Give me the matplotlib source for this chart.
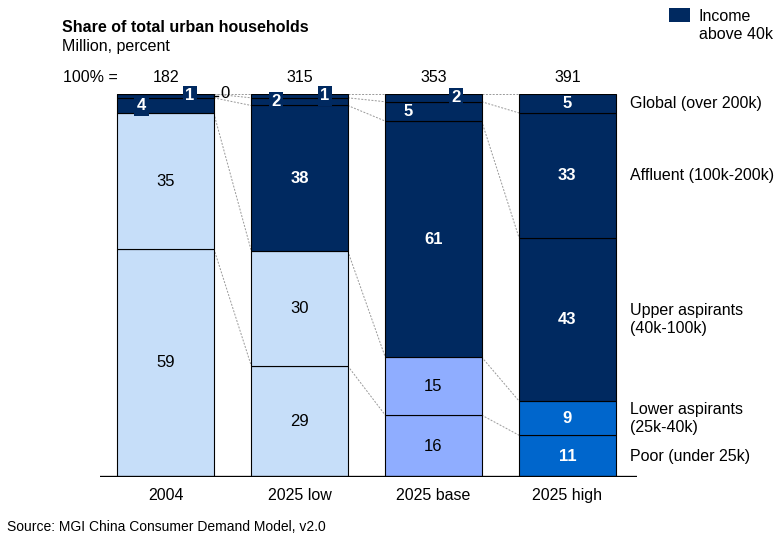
import numpy as np
import matplotlib
matplotlib.use("Agg")
import matplotlib.pyplot as plt
from matplotlib.patches import Rectangle

plt.rcParams['font.family'] = ['Liberation Sans', 'DejaVu Sans']

# data
scenarios = ["2004", "2025 low", "2025 base", "2025 high"]
totals = [182, 315, 353, 391]
segments = ["Poor (under 25k)", "Lower aspirants\n(25k-40k)", "Upper aspirants\n(40k-100k)",
            "Affluent (100k-200k)", "Global (over 200k)"]
poor = [59, 29, 16, 11]
lower = [35, 30, 15, 9]
upper = [4, 38, 61, 43]
affluent = [1, 2, 5, 33]
global_ = [0, 1, 2, 5]

NAVY = "#002960"
low_colors = ["#C6DEF9", "#C6DEF9", "#8FADFF", "#0066CC"]
FS = 11.5

vals = np.array([poor, lower, upper, affluent, global_], dtype=float)
shares = vals / vals.sum(axis=0) * 100
bottoms = np.vstack([np.zeros(4), np.cumsum(shares, axis=0)[:-1]])

fig = plt.figure(figsize=(7.77, 5.37), dpi=100)
ax = fig.add_axes([100 / 777, 60 / 537, 537 / 777, 383 / 537])
x = np.arange(len(scenarios))
w = 0.72

for k in range(len(segments)):
    cols = low_colors if k < 2 else [NAVY] * 4
    ax.bar(x, shares[k], w, bottom=bottoms[k], color=cols, edgecolor="black", linewidth=0.8, zorder=2)

# connector lines between bars
tops = np.vstack([bottoms, np.full(4, 100.0)])
for i in range(len(scenarios) - 1):
    for k in range(1, tops.shape[0]):
        ax.plot([i + w / 2, i + 1 - w / 2], [tops[k, i], tops[k, i + 1]],
                color="#999999", lw=0.7, ls=(0, (2, 1.5)), zorder=1)

# segment labels
box_offsets = {(2, 0): -0.18, (3, 0): 0.18, (3, 1): -0.175, (4, 1): 0.19, (4, 2): 0.17}
plain_offsets = {(3, 2): -0.19}
for k in range(len(segments)):
    for i in range(len(scenarios)):
        v = int(vals[k, i])
        yc = bottoms[k, i] + shares[k, i] / 2
        dark = k >= 2 or i == 3
        if (k, i) == (4, 0):
            ax.plot([i + w / 2, i + w / 2 + 0.03], [99.6, 99.6], color="black", lw=1, clip_on=False)
            ax.text(i + w / 2 + 0.05, 100, str(v), ha="left", va="center", fontsize=12)
        elif (k, i) in box_offsets:
            ax.text(i + box_offsets[(k, i)], yc, str(v), ha="center", va="center", fontsize=12,
                    color="white", fontweight="bold", zorder=5,
                    bbox=dict(boxstyle="square,pad=0.15", fc=NAVY, ec="none"))
        elif dark:
            ax.text(i + plain_offsets.get((k, i), 0), yc, str(v), ha="center", va="center",
                    fontsize=12, color="white", fontweight="bold", zorder=4)
        else:
            ax.text(i, yc, str(v), ha="center", va="center", fontsize=12, color="black", zorder=4)

# right-hand labels
for k in range(len(segments)):
    yc = bottoms[k, 3] + shares[k, 3] / 2
    ax.text(3.47, yc, segments[k], ha="left", va="center", fontsize=FS,
            linespacing=1.25, clip_on=False)

# totals
ax.text(-0.77, 104.4, "100% =", ha="left", va="center", fontsize=FS, clip_on=False)
for i, t in enumerate(totals):
    ax.text(i, 104.4, str(t), ha="center", va="center", fontsize=FS, clip_on=False)

ax.axhline(0, color="black", lw=2.4, zorder=3)
ax.set_xlim(-0.49, 3.52)
ax.set_ylim(0, 100)
ax.set_xticks(x)
ax.set_xticklabels(scenarios, fontsize=FS)
ax.tick_params(axis="x", length=0, pad=8)
ax.set_yticks([])
for s in ax.spines.values():
    s.set_visible(False)

fig.text(62 / 777, 1 - 27 / 537, "Share of total urban households", fontsize=FS,
         fontweight="bold", ha="left", va="center")
fig.text(62 / 777, 1 - 46 / 537, "Million, percent", fontsize=FS, ha="left", va="center")
fig.text(7 / 777, 1 - 527 / 537, "Source: MGI China Consumer Demand Model, v2.0", fontsize=10,
         ha="left", va="center")

fig.patches.append(Rectangle((669 / 777, 1 - 22 / 537), 21 / 777, 14 / 537,
                             transform=fig.transFigure, fc=NAVY, ec="none"))
fig.text(699 / 777, 1 - 25.5 / 537, "Income\nabove 40k", fontsize=FS, ha="left", va="center",
         linespacing=1.25)

fig.savefig("out.png", dpi=100)
